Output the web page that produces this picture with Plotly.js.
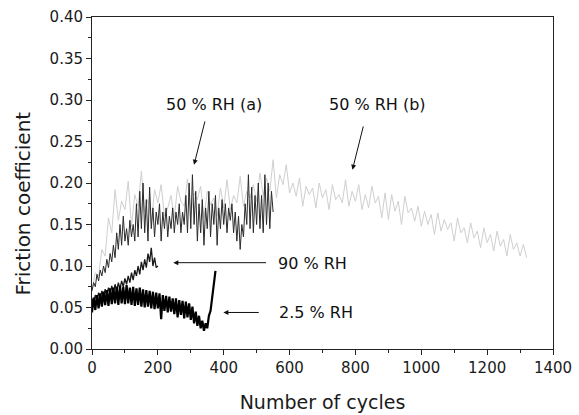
<!DOCTYPE html>
<html>
<head>
<meta charset="utf-8">
<script src="https://cdn.plot.ly/plotly-3.0.1.min.js"></script>
<style>html,body{margin:0;padding:0;background:#fff;}#chart{width:579px;height:415px;}</style>
</head>
<body>
<div id="chart"></div>
<script>
// 50 % RH (b): light grey, cycles 0..1320 step 10
const cyclesB = [];
for (let c = 0; c <= 1320; c += 10) cyclesB.push(c);
const muB = [
0.070,0.092,0.088,0.120,0.112,0.158,0.140,0.192,0.155,0.178,
0.168,0.202,0.148,0.186,0.172,0.214,0.165,0.180,0.150,0.192,
0.176,0.198,0.160,0.170,0.185,0.158,0.196,0.178,0.172,0.205,
0.162,0.188,0.180,0.196,0.158,0.190,0.174,0.182,0.160,0.194,
0.170,0.204,0.168,0.185,0.176,0.208,0.172,0.190,0.182,0.198,
0.178,0.212,0.185,0.206,0.190,0.228,0.182,0.210,0.198,0.222,
0.188,0.200,0.184,0.206,0.172,0.196,0.186,0.194,0.170,0.200,
0.182,0.192,0.168,0.198,0.180,0.186,0.176,0.204,0.172,0.190,
0.178,0.198,0.168,0.186,0.170,0.196,0.176,0.184,0.158,0.188,
0.156,0.186,0.166,0.178,0.150,0.184,0.164,0.170,0.154,0.172,
0.148,0.166,0.150,0.162,0.138,0.164,0.142,0.156,0.144,0.152,
0.130,0.158,0.140,0.146,0.128,0.152,0.134,0.142,0.122,0.146,
0.128,0.138,0.118,0.142,0.124,0.132,0.112,0.138,0.120,0.128,
0.112,0.126,0.110];

// 50 % RH (a): dark, cycles 0..550 step 5
const cyclesA = [];
for (let c = 0; c <= 550; c += 5) cyclesA.push(c);
const muA = [
0.070,0.080,0.075,0.090,0.082,0.095,0.088,0.100,0.092,0.108,
0.098,0.115,0.105,0.125,0.110,0.140,0.120,0.150,0.125,0.160,
0.130,0.145,0.125,0.155,0.135,0.150,0.130,0.175,0.135,0.190,
0.145,0.200,0.140,0.180,0.130,0.195,0.145,0.170,0.135,0.165,
0.150,0.175,0.130,0.165,0.145,0.170,0.135,0.160,0.145,0.170,
0.140,0.165,0.150,0.175,0.140,0.165,0.150,0.185,0.140,0.200,
0.145,0.210,0.150,0.190,0.130,0.175,0.140,0.180,0.125,0.170,
0.145,0.190,0.135,0.175,0.150,0.185,0.125,0.170,0.145,0.180,
0.150,0.175,0.140,0.170,0.155,0.175,0.140,0.165,0.130,0.160,
0.120,0.150,0.135,0.175,0.150,0.210,0.145,0.195,0.140,0.185,
0.150,0.200,0.145,0.185,0.140,0.210,0.150,0.200,0.145,0.190,
0.165];

// 90 % RH: cycles 0..200 step 5
const cycles90 = [];
for (let c = 0; c <= 200; c += 5) cycles90.push(c);
const mu90 = [
0.060,0.055,0.065,0.058,0.068,0.060,0.070,0.062,0.072,0.065,
0.074,0.066,0.076,0.068,0.078,0.070,0.080,0.072,0.082,0.075,
0.085,0.078,0.088,0.080,0.092,0.083,0.095,0.088,0.100,0.090,
0.105,0.095,0.108,0.098,0.115,0.105,0.122,0.100,0.110,0.098,
0.100];

// 2.5 % RH: cycles 0..375 step 5
const cycles25 = [];
for (let c = 0; c <= 375; c += 5) cycles25.push(c);
const mu25 = [
0.044,0.062,0.047,0.065,0.049,0.067,0.051,0.069,0.053,0.071,
0.052,0.073,0.054,0.074,0.055,0.075,0.053,0.076,0.055,0.075,
0.054,0.077,0.055,0.074,0.053,0.075,0.052,0.073,0.053,0.074,
0.051,0.072,0.050,0.071,0.051,0.070,0.049,0.069,0.048,0.068,
0.049,0.067,0.036,0.065,0.046,0.064,0.044,0.063,0.045,0.061,
0.042,0.061,0.038,0.059,0.041,0.058,0.037,0.057,0.038,0.055,
0.035,0.051,0.031,0.045,0.028,0.040,0.025,0.034,0.022,0.031,
0.025,0.040,0.046,0.063,0.076,0.094];

const labels = ["50 % RH (a)", "50 % RH (b)", "90 % RH", "2.5 % RH"];

const traces = [
  {x: cyclesB, y: muB, mode: 'lines', line: {color: '#cfcfcf', width: 1}, name: labels[1]},
  {x: cyclesA, y: muA, mode: 'lines', line: {color: '#2b2b2b', width: 1}, name: labels[0]},
  {x: cycles90, y: mu90, mode: 'lines', line: {color: '#1a1a1a', width: 1.3}, name: labels[2]},
  {x: cycles25, y: mu25, mode: 'lines', line: {color: '#000', width: 2.2}, name: labels[3]}
];

const fam = '"DejaVu Sans", Arial, sans-serif';
const ink = '#1a1a1a';
const arrowStyle = {showarrow: true, arrowhead: 2, arrowsize: 1, arrowwidth: 1, arrowcolor: '#111',
  axref: 'x', ayref: 'y', text: '', standoff: 0, startstandoff: 0};
const annFont = {size: 16, family: fam, color: '#111'};

const layout = {
  width: 579, height: 415,
  margin: {l: 92, r: 26, t: 17, b: 66},
  paper_bgcolor: '#fff', plot_bgcolor: '#fff',
  showlegend: false,
  font: {family: fam, color: ink},
  xaxis: {
    range: [0, 1400], dtick: 200, tick0: 0,
    showgrid: false, zeroline: false,
    showline: true, mirror: true, linecolor: '#222', linewidth: 1,
    ticks: 'outside', ticklen: 5, tickcolor: '#222',
    minor: {dtick: 100, ticks: 'outside', ticklen: 3, tickcolor: '#222'},
    tickfont: {size: 15, family: fam, color: ink},
    title: {text: 'Number of cycles', font: {size: 19, family: fam, color: ink}, standoff: 19}
  },
  yaxis: {
    range: [0, 0.4], dtick: 0.05, tick0: 0, tickformat: '.2f',
    showgrid: false, zeroline: false,
    showline: true, mirror: true, linecolor: '#222', linewidth: 1,
    ticks: 'outside', ticklen: 5, tickcolor: '#222',
    minor: {dtick: 0.025, ticks: 'outside', ticklen: 3, tickcolor: '#222'},
    tickfont: {size: 15, family: fam, color: ink}
  },
  annotations: [
    {xref: 'paper', yref: 'paper', x: 0, y: 0.438, xshift: -69, xanchor: 'center', yanchor: 'middle', textangle: -90,
     text: 'Friction coefficient', showarrow: false, font: {size: 20, family: fam, color: ink}},
    {x: 369, y: 0.294, xref: 'x', yref: 'y', text: labels[0], showarrow: false, font: annFont},
    {x: 868, y: 0.294, xref: 'x', yref: 'y', text: labels[1], showarrow: false, font: annFont},
    {x: 671, y: 0.103, xref: 'x', yref: 'y', text: labels[2], showarrow: false, font: annFont},
    {x: 680, y: 0.044, xref: 'x', yref: 'y', text: labels[3], showarrow: false, font: annFont},
    Object.assign({}, arrowStyle, {x: 310, y: 0.222, ax: 344, ay: 0.276}),
    Object.assign({}, arrowStyle, {x: 791, y: 0.216, ax: 825, ay: 0.270}),
    Object.assign({}, arrowStyle, {x: 247, y: 0.104, ax: 533, ay: 0.104}),
    Object.assign({}, arrowStyle, {x: 399, y: 0.044, ax: 511, ay: 0.044})
  ]
};

Plotly.newPlot('chart', traces, layout, {displayModeBar: false, staticPlot: true});
</script>
</body>
</html>
